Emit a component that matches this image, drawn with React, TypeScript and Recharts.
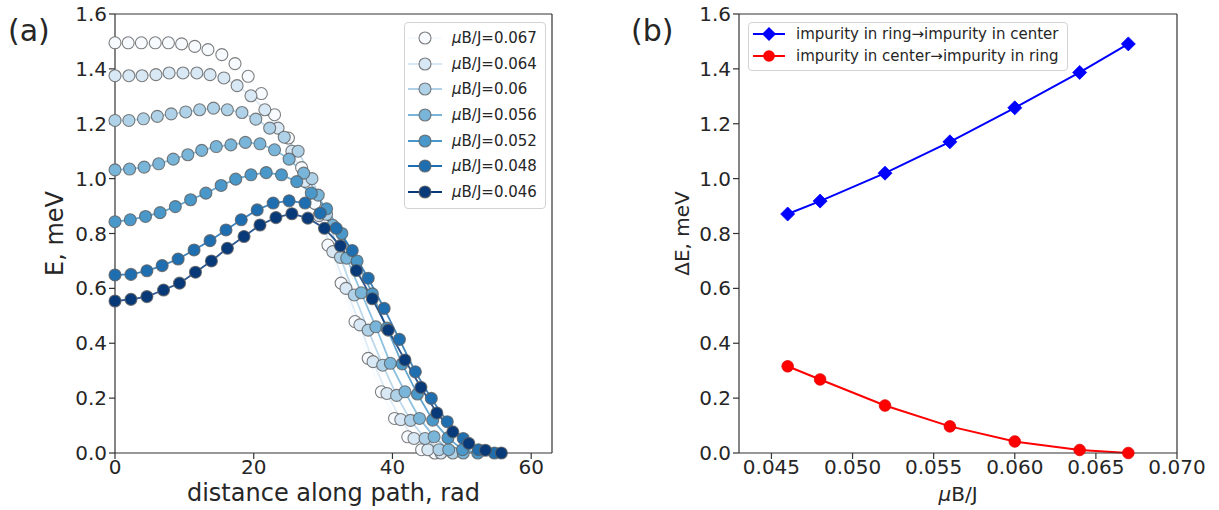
import React from 'react';
import { LineChart, Line, XAxis, YAxis, ReferenceLine, Legend } from 'recharts';

const FONT = '"DejaVu Sans", "Liberation Sans", sans-serif';
const TEXT = '#262626';
const SPINE = '#333';

// ---------- panel (a): energy along the path ----------
const fieldLabels = ['0.067', '0.064', '0.06', '0.056', '0.052', '0.048', '0.046'];
const seriesColors = ['#f7fbff', '#d9e8f5', '#b0d2e8', '#79b5d9', '#4a98c9', '#1f6eb0', '#083a7a'];

const pathX067 = [0, 1.9, 3.8, 5.8, 7.7, 9.6, 11.5, 13.4, 15.4, 17.3, 19.2, 21.1, 23.0, 25.0, 26.9, 28.8, 30.7, 32.6, 34.6, 36.5, 38.4, 40.3, 42.2, 44.2, 46.1];
const energy067 = [1.495, 1.495, 1.495, 1.495, 1.495, 1.491, 1.482, 1.470, 1.452, 1.419, 1.373, 1.310, 1.233, 1.148, 1.040, 0.910, 0.758, 0.619, 0.479, 0.345, 0.223, 0.126, 0.059, 0.012, 0.0];

const pathX064 = [0, 2.0, 3.9, 5.9, 7.8, 9.8, 11.8, 13.7, 15.7, 17.6, 19.6, 21.6, 23.5, 25.5, 27.4, 29.4, 31.4, 33.3, 35.3, 37.2, 39.2, 41.2, 43.1, 45.1, 47.0];
const energy064 = [1.375, 1.375, 1.375, 1.379, 1.385, 1.385, 1.385, 1.379, 1.367, 1.339, 1.302, 1.251, 1.184, 1.100, 0.990, 0.865, 0.734, 0.600, 0.467, 0.333, 0.217, 0.122, 0.053, 0.012, 0.0];

const pathX060 = [0, 2.0, 4.1, 6.1, 8.1, 10.2, 12.2, 14.2, 16.2, 18.3, 20.3, 22.3, 24.4, 26.4, 28.4, 30.5, 32.5, 34.5, 36.5, 38.6, 40.6, 42.6, 44.7, 46.7, 48.7];
const energy060 = [1.212, 1.212, 1.218, 1.227, 1.236, 1.243, 1.251, 1.257, 1.251, 1.241, 1.217, 1.184, 1.151, 1.100, 1.000, 0.870, 0.713, 0.576, 0.448, 0.320, 0.210, 0.119, 0.053, 0.012, 0.0];

const pathX056 = [0, 2.1, 4.2, 6.3, 8.4, 10.5, 12.5, 14.6, 16.7, 18.8, 20.9, 23.0, 25.1, 27.2, 29.3, 31.4, 33.4, 35.5, 37.6, 39.7, 41.8, 43.9, 46.0, 48.1, 50.2];
const energy056 = [1.032, 1.035, 1.042, 1.054, 1.071, 1.087, 1.103, 1.117, 1.123, 1.132, 1.127, 1.105, 1.071, 1.020, 0.940, 0.830, 0.710, 0.584, 0.460, 0.327, 0.223, 0.126, 0.059, 0.012, 0.0];

const pathX052 = [0, 2.2, 4.4, 6.5, 8.7, 10.9, 13.1, 15.3, 17.4, 19.6, 21.8, 24.0, 26.2, 28.3, 30.5, 32.7, 34.9, 37.1, 39.2, 41.4, 43.6, 45.8, 48.0, 50.1, 52.3];
const energy052 = [0.843, 0.850, 0.862, 0.876, 0.898, 0.923, 0.947, 0.975, 0.998, 1.014, 1.022, 1.014, 0.989, 0.947, 0.890, 0.800, 0.700, 0.580, 0.455, 0.325, 0.215, 0.120, 0.055, 0.012, 0.0];

const pathX048 = [0, 2.3, 4.6, 6.8, 9.1, 11.4, 13.7, 16.0, 18.2, 20.5, 22.8, 25.1, 27.4, 29.6, 31.9, 34.2, 36.5, 38.8, 41.0, 43.3, 45.6, 47.9, 50.2, 52.4, 54.7];
const energy048 = [0.649, 0.651, 0.664, 0.683, 0.707, 0.740, 0.774, 0.813, 0.850, 0.886, 0.911, 0.919, 0.911, 0.874, 0.819, 0.738, 0.637, 0.527, 0.414, 0.296, 0.199, 0.114, 0.053, 0.012, 0.0];

const pathX046 = [0, 2.3, 4.6, 7.0, 9.3, 11.6, 13.9, 16.2, 18.6, 20.9, 23.2, 25.5, 27.8, 30.2, 32.5, 34.8, 37.1, 39.4, 41.8, 44.1, 46.4, 48.7, 51.0, 53.4, 55.7];
const energy046 = [0.554, 0.560, 0.570, 0.594, 0.619, 0.659, 0.700, 0.746, 0.789, 0.831, 0.858, 0.872, 0.856, 0.819, 0.755, 0.665, 0.562, 0.448, 0.339, 0.239, 0.146, 0.077, 0.035, 0.010, 0.0];

const pathXs = [pathX067, pathX064, pathX060, pathX056, pathX052, pathX048, pathX046];
const energies = [energy067, energy064, energy060, energy056, energy052, energy048, energy046];

const xTicksA = [0, 20, 40, 60];
const yTicks = [0, 0.2, 0.4, 0.6, 0.8, 1.0, 1.2, 1.4, 1.6];

// ---------- panel (b): barriers vs field ----------
const fieldValues = [0.046, 0.048, 0.052, 0.056, 0.06, 0.064, 0.067];
const barrierRingToCenter = [0.871, 0.918, 1.02, 1.134, 1.258, 1.387, 1.491];
const barrierCenterToRing = [0.316, 0.268, 0.173, 0.097, 0.042, 0.011, 0.0];
const xTicksB = [0.045, 0.05, 0.055, 0.06, 0.065, 0.07];
const legendB = ['impurity in ring\u2192impurity in center', 'impurity in center\u2192impurity in ring'];

const seriesA = fieldLabels.map((label, i) => ({
  label,
  color: seriesColors[i],
  data: pathXs[i].map((x, k) => ({ x, e: energies[i][k] })),
}));

const dataB = fieldValues.map((f, i) => ({ f, up: barrierRingToCenter[i], down: barrierCenterToRing[i] }));

const tickStyle = { fontSize: 20, fill: TEXT, fontFamily: FONT };
const lineStyle = { stroke: SPINE, strokeWidth: 1.2 };

const XTitle = (props: any) => {
  const vb = props.viewBox || { x: props.fx, width: props.fw };
  const cx = vb.x + vb.width / 2;
  return (
    <text x={cx} y={props.ty} textAnchor="middle" dominantBaseline="central" fontSize={props.size} fontFamily={FONT} fill={TEXT}>
      {props.children}
    </text>
  );
};

const YTitle = (props: any) => {
  const vb = props.viewBox || { y: 14, height: 439 };
  const cx = props.tx;
  const cy = vb.y + vb.height / 2;
  return (
    <text x={cx} y={cy} transform={`rotate(-90 ${cx} ${cy})`} textAnchor="middle" dominantBaseline="central" fontSize={props.size} fontFamily={FONT} fill={TEXT}>
      {props.children}
    </text>
  );
};

const makeCircleDot = (color: string) => (p: any) => (
  <circle key={`d-${p.index}`} cx={p.cx} cy={p.cy} r={6} fill={color} stroke="#5e5e5e" strokeOpacity={0.8} strokeWidth={1.1} />
);

const LegendA = () => (
  <div style={{ width: 142, boxSizing: 'border-box', border: '1px solid #d3d3d3', borderRadius: 4, background: 'rgba(255,255,255,0.85)', padding: '2px 0 3px 0', fontFamily: FONT, fontSize: 15, color: TEXT }}>
    {seriesA.map((s) => (
      <div key={s.label} style={{ height: 25.7, display: 'flex', alignItems: 'center' }}>
        <svg width={34} height={16} style={{ marginLeft: 3, flex: 'none' }}>
          <line x1={0} y1={8} x2={34} y2={8} stroke={s.color} strokeWidth={1.8} />
          <circle cx={17} cy={8} r={6} fill={s.color} stroke="#5e5e5e" strokeOpacity={0.8} strokeWidth={1.1} />
        </svg>
        <span style={{ marginLeft: 10, whiteSpace: 'nowrap' }}>
          <i>μ</i>B/J={s.label}
        </span>
      </div>
    ))}
  </div>
);

const LegendB = () => (
  <div style={{ width: 320, boxSizing: 'border-box', border: '1px solid #d3d3d3', borderRadius: 4, background: 'rgba(255,255,255,0.85)', padding: '0 0 2px 0', fontFamily: FONT, fontSize: 15, color: TEXT }}>
    {legendB.map((t, i) => (
      <div key={t} style={{ height: 22.3, display: 'flex', alignItems: 'center' }}>
        <svg width={32} height={16} style={{ marginLeft: 4, flex: 'none' }}>
          <line x1={0} y1={8} x2={32} y2={8} stroke={i === 0 ? '#0000ff' : '#ff0000'} strokeWidth={2} />
          {i === 0 ? (
            <polygon points="16,1 23,8 16,15 9,8" fill="#0000ff" />
          ) : (
            <circle cx={16} cy={8} r={5.8} fill="#ff0000" />
          )}
        </svg>
        <span style={{ marginLeft: 11, whiteSpace: 'nowrap' }}>{t}</span>
      </div>
    ))}
  </div>
);

const Diamond = (p: any) => (
  <polygon key={`dm-${p.index}`} points={`${p.cx},${p.cy - 7} ${p.cx + 7},${p.cy} ${p.cx},${p.cy + 7} ${p.cx - 7},${p.cy}`} fill="#0000ff" stroke="#0000ff" strokeWidth={0.8} />
);
const RedDot = (p: any) => (
  <circle key={`rd-${p.index}`} cx={p.cx} cy={p.cy} r={5.8} fill="#ff0000" stroke="#e00000" strokeWidth={0.8} />
);

export default function App() {
  return (
    <div style={{ position: 'absolute', left: 0, top: 0, width: 1219, height: 510, background: '#fff', fontFamily: FONT }}>
      <div style={{ position: 'absolute', left: 8, top: 16, fontSize: 30, lineHeight: '30px', color: TEXT }}>(a)</div>
      <div style={{ position: 'absolute', left: 631, top: 16, fontSize: 30, lineHeight: '30px', color: TEXT }}>(b)</div>

      <div style={{ position: 'absolute', left: 0, top: 0 }}>
        <LineChart width={600} height={510} margin={{ top: 14, right: 48, bottom: 0, left: 0 }}>
          <XAxis
            type="number"
            dataKey="x"
            domain={[0, 63]}
            ticks={xTicksA}
            allowDuplicatedCategory={false}
            height={57}
            tickSize={6}
            tickMargin={1}
            tick={tickStyle}
            axisLine={lineStyle}
            tickLine={lineStyle}
            label={<XTitle ty={493} size={24} fx={115} fw={437}>distance along path, rad</XTitle>}
          />
          <YAxis
            type="number"
            domain={[0, 1.6]}
            ticks={yTicks}
            width={115}
            tickSize={6}
            tickMargin={2}
            tickFormatter={(v: number) => v.toFixed(1)}
            tick={tickStyle}
            axisLine={lineStyle}
            tickLine={lineStyle}
            label={<YTitle tx={55} size={24}>E, meV</YTitle>}
          />
          <ReferenceLine y={1.6} stroke={SPINE} strokeWidth={1.2} />
          <ReferenceLine x={63} stroke={SPINE} strokeWidth={1.2} />
          {seriesA.map((s) => (
            <Line
              key={s.label}
              data={s.data}
              dataKey="e"
              type="linear"
              stroke={s.color}
              strokeOpacity={0.85}
              strokeWidth={1.8}
              dot={makeCircleDot(s.color)}
              activeDot={false}
              isAnimationActive={false}
            />
          ))}
          <Legend
            layout="vertical"
            align="center"
            verticalAlign="middle"
            content={<LegendA />}
            wrapperStyle={{ position: 'absolute', left: 404, top: 22, width: 142 }}
          />
        </LineChart>
      </div>

      <div style={{ position: 'absolute', left: 620, top: 0 }}>
        <LineChart width={599} height={510} data={dataB} margin={{ top: 14, right: 42, bottom: 0, left: 0 }}>
          <XAxis
            type="number"
            dataKey="f"
            domain={[0.043, 0.07]}
            ticks={xTicksB}
            height={57}
            tickSize={6}
            tickMargin={1}
            tickFormatter={(v: number) => v.toFixed(3)}
            tick={tickStyle}
            axisLine={lineStyle}
            tickLine={lineStyle}
            label={
              <XTitle ty={494} size={20} fx={119} fw={438}>
                <tspan fontStyle="italic">μ</tspan>B/J
              </XTitle>
            }
          />
          <YAxis
            type="number"
            domain={[0, 1.6]}
            ticks={yTicks}
            width={119}
            tickSize={6}
            tickMargin={2}
            tickFormatter={(v: number) => v.toFixed(1)}
            tick={tickStyle}
            axisLine={lineStyle}
            tickLine={lineStyle}
            label={<YTitle tx={62} size={20}>ΔE, meV</YTitle>}
          />
          <ReferenceLine y={1.6} stroke={SPINE} strokeWidth={1.2} />
          <ReferenceLine x={0.07} stroke={SPINE} strokeWidth={1.2} />
          <Line dataKey="up" type="linear" stroke="#0000ff" strokeWidth={2} dot={Diamond} activeDot={false} isAnimationActive={false} />
          <Line dataKey="down" type="linear" stroke="#ff0000" strokeWidth={2} dot={RedDot} activeDot={false} isAnimationActive={false} />
          <Legend
            layout="vertical"
            align="center"
            verticalAlign="middle"
            content={<LegendB />}
            wrapperStyle={{ position: 'absolute', left: 128, top: 22, width: 320 }}
          />
        </LineChart>
      </div>
    </div>
  );
}
